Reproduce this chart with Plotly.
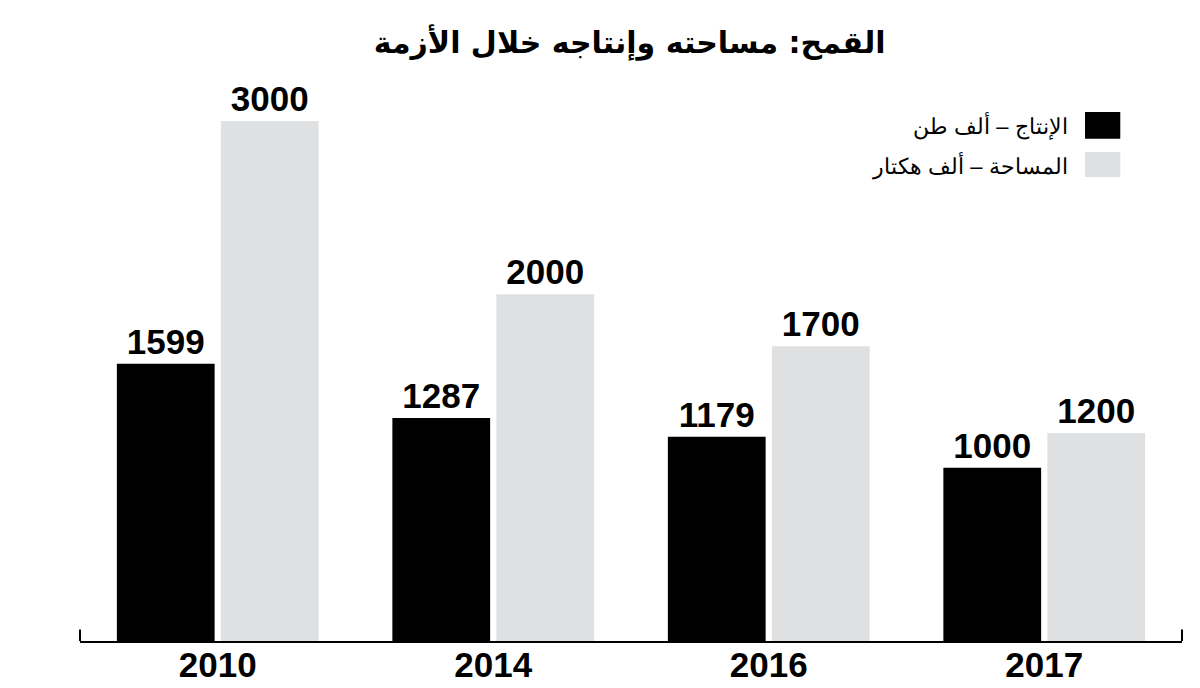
import plotly.graph_objects as go

annees = ['2010', '2014', '2016', '2017']
production = [1599, 1287, 1179, 1000]
superficie = [3000, 2000, 1700, 1200]

nom_production = 'الإنتاج – ألف طن'
nom_superficie = 'المساحة – ألف هكتار'
titre = 'القمح: مساحته وإنتاجه خلال الأزمة'

noir = '#000000'
gris = '#dfe0e1'
police_chiffres = 'Liberation Sans, Arial'

fig = go.Figure()
fig.add_trace(go.Bar(x=annees, y=production, name=nom_production,
                     marker=dict(color=noir, line=dict(width=0)),
                     text=production, textposition='outside', cliponaxis=False,
                     textfont=dict(family=police_chiffres, size=35, color='black', weight='bold')))
fig.add_trace(go.Bar(x=annees, y=superficie, name=nom_superficie,
                     marker=dict(color=gris, line=dict(width=0)),
                     text=superficie, textposition='outside', cliponaxis=False,
                     textfont=dict(family=police_chiffres, size=35, color='black', weight='bold')))

# légende à droite (carré à droite du texte, lecture de droite à gauche)
legende = [(nom_production, noir, 0.925, 0.878, 0.902),
           (nom_superficie, gris, 0.855, 0.811, 0.832)]
for nom, couleur, haut, bas, milieu in legende:
    fig.add_shape(type='rect', xref='paper', yref='paper',
                  x0=0.912, x1=0.944, y0=bas, y1=haut,
                  fillcolor=couleur, line=dict(width=0))
    fig.add_annotation(text=nom, xref='paper', yref='paper', x=0.898, y=milieu,
                       xanchor='right', yanchor='middle', showarrow=False,
                       font=dict(family='Liberation Sans, Arial', size=22, color='black'))

# petits traits aux extrémités de l'axe
for bord in [0, 1]:
    fig.add_shape(type='line', xref='paper', yref='paper', x0=bord, x1=bord, y0=0, y1=0.02,
                  line=dict(color='black', width=2))

fig.update_layout(
    width=1200, height=688,
    paper_bgcolor='white', plot_bgcolor='white',
    margin=dict(l=72, r=26, t=61, b=55),
    barmode='group', bargap=0.245, bargroupgap=0.06,
    showlegend=False,
    title=dict(text=titre, x=0.518, xanchor='center', y=0.95, yanchor='middle',
               font=dict(family='DejaVu Sans', size=30, color='black', weight='bold')),
    xaxis=dict(showline=True, linecolor='black', linewidth=2, ticks='', automargin=False,
               ticklabelstandoff=-8,
               tickfont=dict(family=police_chiffres, size=35, color='black', weight='bold')),
    yaxis=dict(range=[0, 3300], visible=False, showgrid=False, zeroline=False),
)

fig.write_html('out.html')
